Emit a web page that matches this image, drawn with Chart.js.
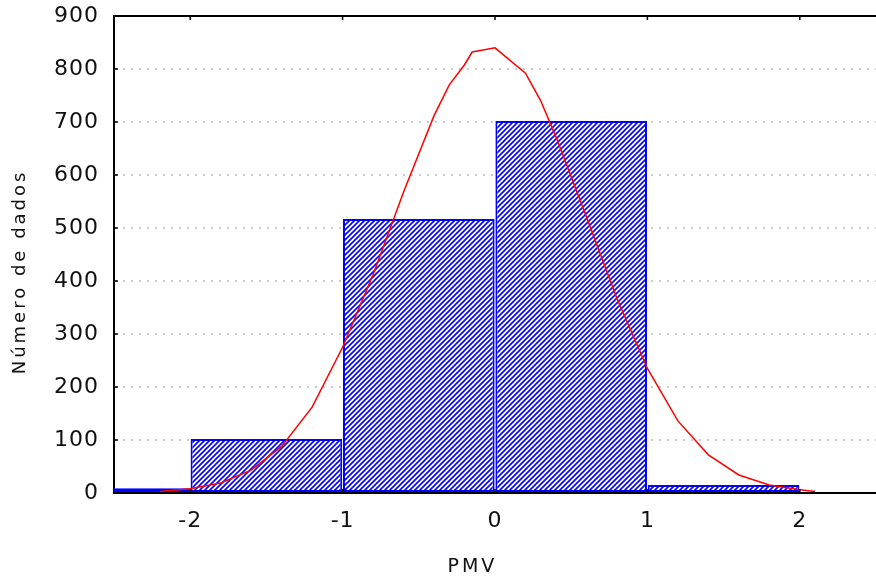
<!DOCTYPE html>
<html>
<head>
<meta charset="utf-8">
<script src="https://cdn.jsdelivr.net/npm/chart.js@4/dist/chart.umd.min.js"></script>
<style>
html,body{margin:0;padding:0;background:#fff;}
canvas{display:block;}
</style>
</head>
<body>
<canvas id="c" width="876" height="581"></canvas>
<script>
// Histogram bins (centers) and counts
const binCenters = [-2.5, -1.5, -0.5, 0.5, 1.5];
const binCounts  = [9, 102, 517, 702, 15];

// Fitted normal curve
const curveX = [-2.2, -2.0, -1.8, -1.6, -1.4, -1.2, -1.0, -0.8, -0.6, -0.4, -0.3, -0.2, -0.15, 0.0, 0.2, 0.3, 0.4, 0.6, 0.8, 1.0, 1.2, 1.4, 1.6, 1.8, 2.0, 2.1];
const curveY = [3, 8, 19, 43, 88, 162, 275, 412, 568, 712, 770, 808, 832, 840, 792, 740, 672, 521, 367, 235, 136, 72, 34, 15, 6, 3];

const yTicks = [0, 100, 200, 300, 400, 500, 600, 700, 800, 900];
const xTicks = [-2, -1, 0, 1, 2];

const xTitle = 'PMV';
const yTitle = 'Número de dados';

function hatch() {
  const s = 5;
  const c = document.createElement('canvas');
  c.width = s; c.height = s;
  const g = c.getContext('2d');
  g.fillStyle = '#ffffff';
  g.fillRect(0, 0, s, s);
  g.strokeStyle = '#0000ff';
  g.lineWidth = 1.6;
  g.beginPath();
  g.moveTo(-1, s + 1); g.lineTo(s + 1, -1);
  g.moveTo(-1, 1); g.lineTo(1, -1);
  g.moveTo(s - 1, s + 1); g.lineTo(s + 1, s - 1);
  g.stroke();
  return g.createPattern(c, 'repeat');
}

const frame = {
  id: 'frame',
  beforeUpdate(chart) { chart.ctx.letterSpacing = '1px'; },
  afterUpdate(chart) {
    Object.values(chart.scales).forEach(s => {
      if (s._wrappedTitle) return;
      const orig = s.drawTitle;
      s.drawTitle = function () {
        const c = this.ctx;
        c.letterSpacing = '3px';
        orig.apply(this, arguments);
        c.letterSpacing = '1px';
      };
      s._wrappedTitle = true;
    });
  },
  beforeDraw(chart) { chart.ctx.letterSpacing = '1px'; },
  afterDraw(chart) {
    const {ctx, chartArea: a, scales: {x, y}} = chart;
    ctx.save();
    ctx.strokeStyle = '#000';
    ctx.lineWidth = 2;
    ctx.beginPath();
    ctx.moveTo(a.left - 1, a.top);
    ctx.lineTo(a.right, a.top);
    ctx.stroke();
    ctx.lineWidth = 1.5;
    ctx.beginPath();
    yTicks.forEach(v => {
      const py = y.getPixelForValue(v);
      ctx.moveTo(a.left, py); ctx.lineTo(a.left + 4, py);
    });
    xTicks.forEach(v => {
      const px = x.getPixelForValue(v);
      ctx.moveTo(px, a.bottom); ctx.lineTo(px, a.bottom - 4);
      ctx.moveTo(px, a.top); ctx.lineTo(px, a.top + 4);
    });
    ctx.stroke();
    ctx.restore();
  }
};

const ctx = document.getElementById('c').getContext('2d');
new Chart(ctx, {
  type: 'bar',
  data: {
    datasets: [
      {
        type: 'line',
        data: curveX.map((v, i) => ({x: v, y: curveY[i]})),
        borderColor: '#ff0000',
        borderWidth: 1.5,
        pointRadius: 0,
        tension: 0,
        fill: false,
        order: 0
      },
      {
        type: 'bar',
        data: binCenters.map((v, i) => ({x: v, y: binCounts[i]})),
        backgroundColor: hatch(),
        borderColor: '#0000ff',
        borderWidth: 2,
        borderSkipped: false,
        barPercentage: 0.995,
        categoryPercentage: 1,
        order: 1
      }
    ]
  },
  options: {
    responsive: false,
    animation: false,
    layout: {padding: {top: 16, right: 0, bottom: 0, left: 0}},
    plugins: {legend: {display: false}, tooltip: {enabled: false}},
    scales: {
      x: {
        type: 'linear',
        min: -2.5,
        max: 2.5,
        offset: false,
        afterFit(s) { s.height = 88; s.paddingLeft = 0; s.paddingRight = 0; },
        afterBuildTicks(s) { s.ticks = xTicks.map(v => ({value: v})); },
        grid: {display: false, drawTicks: false, offset: false},
        border: {display: true, color: '#000', width: 2},
        ticks: {
          padding: 15,
          color: '#111',
          font: {family: 'DejaVu Sans', size: 22},
          callback: v => String(v)
        },
        title: {
          display: true,
          text: xTitle + '     ',
          color: '#111',
          font: {family: 'DejaVu Sans', size: 19},
          padding: {top: 0, bottom: 3}
        }
      },
      y: {
        type: 'linear',
        min: 0,
        max: 900,
        afterFit(s) { s.width = 114; s.paddingTop = 0; s.paddingBottom = 0; },
        afterBuildTicks(s) { s.ticks = yTicks.map(v => ({value: v})); },
        grid: {
          drawTicks: false,
          lineWidth: 2,
          color: c => (c.tick && c.tick.value > 0 && c.tick.value < 900) ? '#cccccc' : 'rgba(0,0,0,0)'
        },
        border: {display: true, color: '#000', width: 2, dash: [2, 6]},
        ticks: {
          padding: 15,
          color: '#111',
          font: {family: 'DejaVu Sans', size: 22},
          callback: v => String(v)
        },
        title: {
          display: true,
          text: yTitle + '    ',
          color: '#111',
          font: {family: 'DejaVu Sans', size: 18},
          padding: {top: 10, bottom: 0}
        }
      }
    }
  },
  plugins: [frame]
});
</script>
</body>
</html>
